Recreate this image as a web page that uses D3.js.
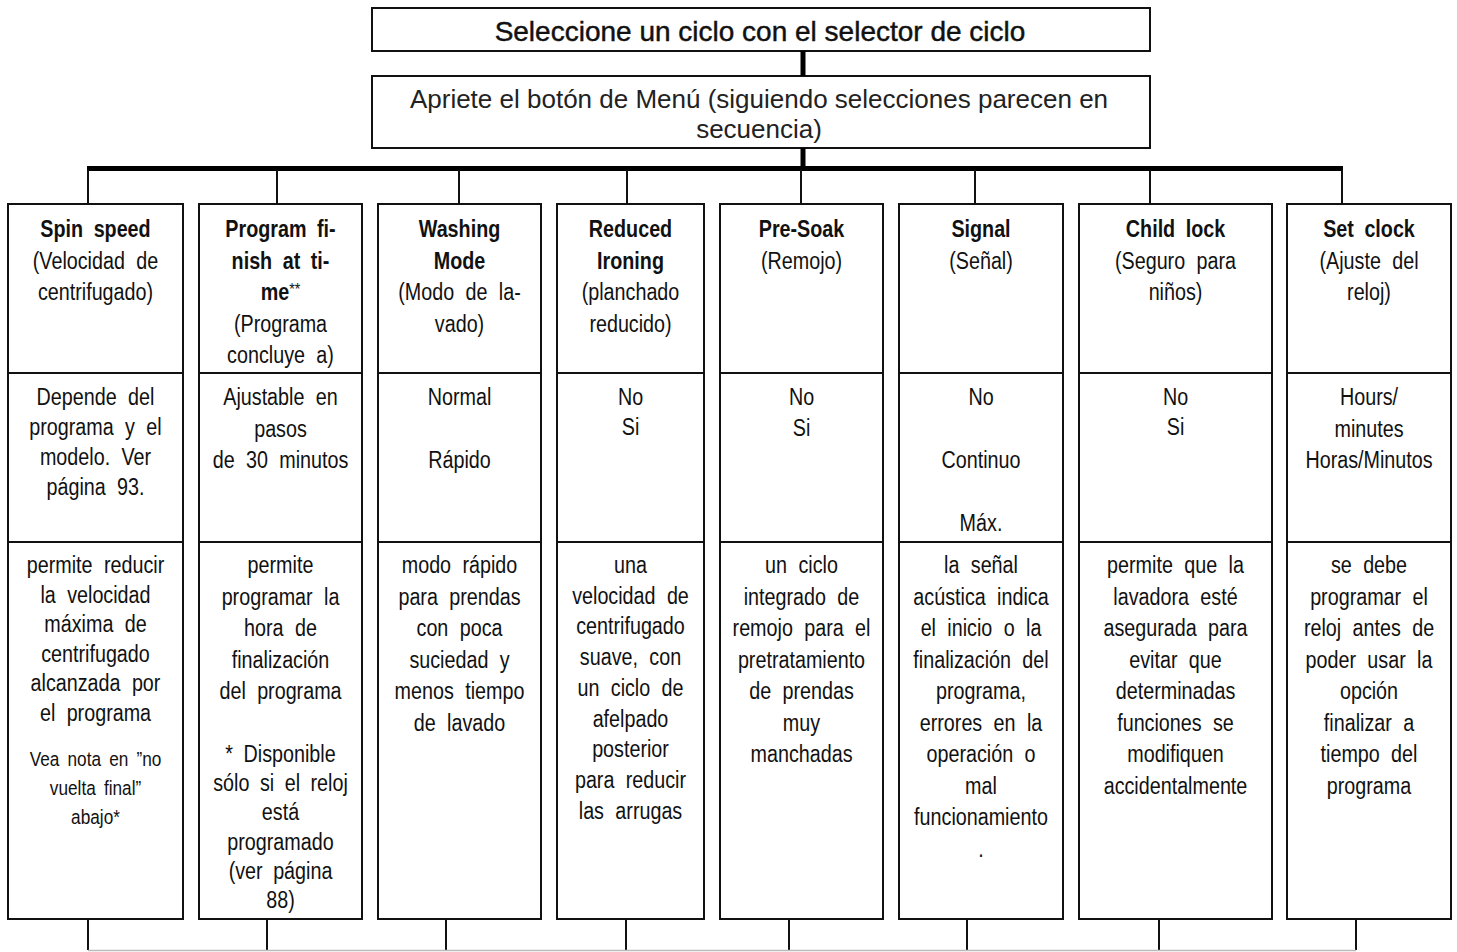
<!DOCTYPE html>
<html>
<head>
<meta charset="utf-8">
<script src="https://cdn.jsdelivr.net/npm/d3@7"></script>
<style>
  html, body { margin: 0; padding: 0; background: #fff; }
  svg { display: block; }
  .col { font-family: "Liberation Sans", Arial, sans-serif; fill: #111; }
  .top { font-family: "Liberation Sans", Arial, sans-serif; fill: #111; }
</style>
</head>
<body>
<svg id="chart" width="1457" height="952"></svg>
<script>
// ---------- content ----------
const stepTitle = "Seleccione un ciclo con el selector de ciclo";
const menuLines = ["Apriete el botón de Menú (siguiendo selecciones parecen en", "secuencia)"];

const columnTitles = [
  ["Spin speed"],
  ["Program fi-", "nish at ti-", "me"],
  ["Washing", "Mode"],
  ["Reduced", "Ironing"],
  ["Pre-Soak"],
  ["Signal"],
  ["Child lock"],
  ["Set clock"]
];
const titleMarks = ["", "**", "", "", "", "", "", ""];
const columnSubtitles = [
  ["(Velocidad de", "centrifugado)"],
  ["(Programa", "concluye a)"],
  ["(Modo de la-", "vado)"],
  ["(planchado", "reducido)"],
  ["(Remojo)"],
  ["(Señal)"],
  ["(Seguro para", "niños)"],
  ["(Ajuste del", "reloj)"]
];
const settingValues = [
  ["Depende del", "programa y el", "modelo. Ver", "página 93."],
  ["Ajustable en", "pasos", "de 30 minutos"],
  ["Normal", "", "Rápido"],
  ["No", "Si"],
  ["No", "Si"],
  ["No", "", "Continuo", "", "Máx."],
  ["No", "Si"],
  ["Hours/", "minutes", "Horas/Minutos"]
];
const descriptions = [
  ["permite reducir", "la velocidad", "máxima de", "centrifugado", "alcanzada por", "el programa"],
  ["permite", "programar la", "hora de", "finalización", "del programa"],
  ["modo rápido", "para prendas", "con poca", "suciedad y", "menos tiempo", "de lavado"],
  ["una", "velocidad de", "centrifugado", "suave, con", "un ciclo de", "afelpado", "posterior", "para reducir", "las arrugas"],
  ["un ciclo", "integrado de", "remojo para el", "pretratamiento", "de prendas", "muy", "manchadas"],
  ["la señal", "acústica indica", "el inicio o la", "finalización del", "programa,", "errores en la", "operación o", "mal", "funcionamiento", "."],
  ["permite que la", "lavadora esté", "asegurada para", "evitar que", "determinadas", "funciones se", "modifiquen", "accidentalmente"],
  ["se debe", "programar el", "reloj antes de", "poder usar la", "opción", "finalizar a", "tiempo del", "programa"]
];
const notes = [
  ["Vea nota en ”no", "vuelta final”", "abajo*"],
  ["* Disponible", "sólo si el reloj", "está", "programado", "(ver página", "88)"],
  [], [], [], [], [], []
];

// ---------- layout ----------
const colLeft  = [8, 199, 378, 557, 720, 899, 1079, 1287];
const colRight = [183, 362, 541, 704, 883, 1063, 1272, 1451];
const connectTop = [88, 277, 459, 627, 801, 975, 1150, 1342];
const connectBottom = [88, 267, 446, 626, 789, 967, 1159, 1356];
const rowNames = ["header", "value", "desc", "end"];
const rowEdges = [204, 373, 542, 919];
const valueLH = [30, 31.5, 31.5, 30, 31, 31.5, 30, 31.5];
const descLH = [29.6, 31.5, 31.5, 30.7, 31.5, 31.5, 31.5, 31.5];
const noteTop = [766, 762];
const noteLH = [29, 29.2];
const noteSize = [20.5, 23.5];
const noteWS = [4, 6];

const svg = d3.select("#chart");
const idx = d3.range(columnTitles.length);
const xL = d3.scaleOrdinal().domain(idx).range(colLeft);
const xR = d3.scaleOrdinal().domain(idx).range(colRight);
const xC = i => (xL(i) + xR(i)) / 2;
const y = d3.scaleOrdinal().domain(rowNames).range(rowEdges);

// ---------- top boxes ----------
const boxX0 = 372, boxX1 = 1150, boxCx = (boxX0 + boxX1) / 2;
svg.append("rect").attr("x", boxX0).attr("y", 8).attr("width", boxX1 - boxX0).attr("height", 43)
  .attr("fill", "none").attr("stroke", "#111").attr("stroke-width", 2);
svg.append("text").attr("class", "top").attr("x", boxCx - 1).attr("y", 40.5)
  .attr("text-anchor", "middle").style("font-size", "28px")
  .attr("stroke", "#111").attr("stroke-width", 0.45).text(stepTitle);

svg.append("rect").attr("x", boxX0).attr("y", 76).attr("width", boxX1 - boxX0).attr("height", 72)
  .attr("fill", "none").attr("stroke", "#111").attr("stroke-width", 2);
svg.selectAll("text.menu").data(menuLines).join("text")
  .attr("class", "top menu").attr("x", boxCx - 2).attr("y", (d, i) => 108 + i * 30)
  .attr("text-anchor", "middle").style("font-size", "26px").style("fill", "#222").text(d => d);

// thick connectors
svg.append("line").attr("x1", 803).attr("x2", 803).attr("y1", 51).attr("y2", 76)
  .attr("stroke", "#000").attr("stroke-width", 5);
svg.append("line").attr("x1", 803).attr("x2", 803).attr("y1", 148).attr("y2", 168)
  .attr("stroke", "#000").attr("stroke-width", 5);
svg.append("line").attr("x1", d3.min(connectTop) - 1).attr("x2", d3.max(connectTop) + 1)
  .attr("y1", 168.5).attr("y2", 168.5).attr("stroke", "#000").attr("stroke-width", 5);

svg.selectAll("line.ct").data(connectTop).join("line").attr("class", "ct")
  .attr("x1", d => d).attr("x2", d => d).attr("y1", 170).attr("y2", y("header"))
  .attr("stroke", "#111").attr("stroke-width", 2);

// bottom connectors
svg.selectAll("line.cb").data(connectBottom).join("line").attr("class", "cb")
  .attr("x1", d => d).attr("x2", d => d).attr("y1", y("end")).attr("y2", 950)
  .attr("stroke", "#111").attr("stroke-width", 2);
svg.append("line").attr("x1", d3.min(connectBottom)).attr("x2", d3.max(connectBottom))
  .attr("y1", 950.5).attr("y2", 950.5).attr("stroke", "#bbb").attr("stroke-width", 1.5);

// ---------- columns ----------
const cols = svg.selectAll("g.column").data(idx).join("g").attr("class", "column");

cols.append("rect")
  .attr("x", i => xL(i)).attr("y", y("header"))
  .attr("width", i => xR(i) - xL(i)).attr("height", y("end") - y("header"))
  .attr("fill", "none").attr("stroke", "#111").attr("stroke-width", 2);
["value", "desc"].forEach(r => {
  cols.append("line").attr("x1", i => xL(i)).attr("x2", i => xR(i))
    .attr("y1", y(r)).attr("y2", y(r)).attr("stroke", "#111").attr("stroke-width", 2);
});

const FS = 23.5;
const SX = 0.84; // condensed look
function addText(g, x, yy, size, ws) {
  return g.append("text").attr("class", "col")
    .attr("transform", `translate(${x},${yy}) scale(${SX},1)`)
    .attr("text-anchor", "middle").style("font-size", size + "px")
    .style("word-spacing", (ws == null ? 7 : ws) + "px");
}
function lines(g, arr, x, y0, lh, size, ws) {
  arr.forEach((t, k) => {
    if (!t) return;
    addText(g, x, y0 + k * lh, size, ws).text(t);
  });
}

cols.each(function(i) {
  const g = d3.select(this);
  const cx = xC(i);
  const hLH = 31.5, h0 = 237;
  columnTitles[i].forEach((t, k) => {
    const tx = addText(g, cx, h0 + k * hLH, FS, 6);
    tx.append("tspan").style("font-weight", "bold").text(t);
    if (k === columnTitles[i].length - 1 && titleMarks[i]) {
      tx.append("tspan").style("font-size", "17px").attr("dy", -5).text(titleMarks[i]);
    }
  });
  lines(g, columnSubtitles[i], cx, h0 + columnTitles[i].length * hLH, hLH, FS);
  lines(g, settingValues[i], cx, 405, valueLH[i], FS);
  lines(g, descriptions[i], cx, 573, descLH[i], FS);
  if (notes[i].length) lines(g, notes[i], cx, noteTop[i], noteLH[i], noteSize[i], noteWS[i]);
});
</script>
</body>
</html>
